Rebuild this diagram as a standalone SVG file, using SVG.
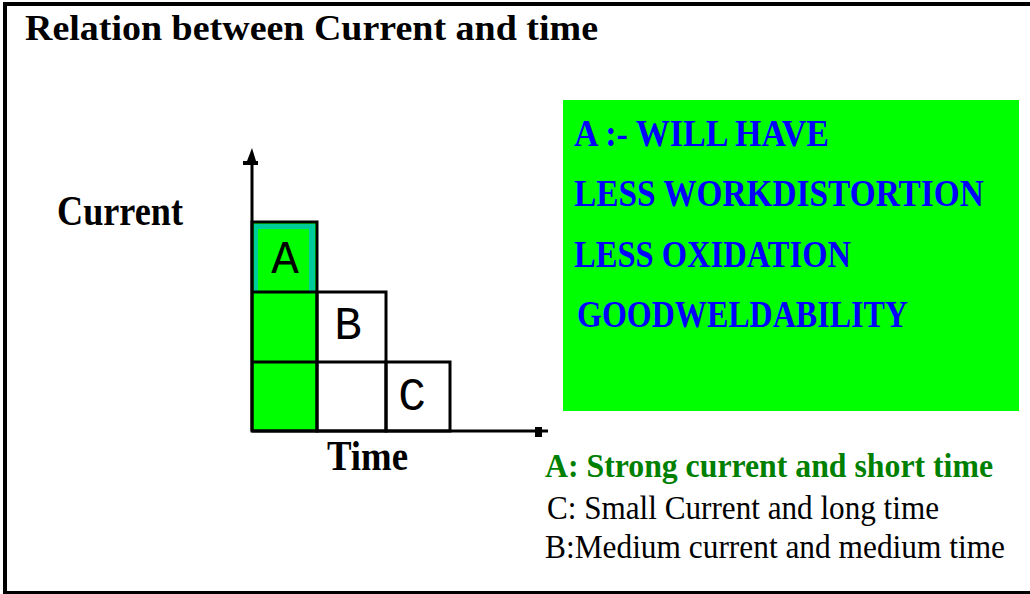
<svg xmlns="http://www.w3.org/2000/svg" width="1030" height="594" viewBox="0 0 1030 594">
<style>
.ser{font-family:"Liberation Serif","Times New Roman",serif}
.b{font-weight:bold}
.blue{fill:#0000ff;font-family:"Liberation Serif",serif;font-weight:bold;font-size:38px}
.cell{fill:none;stroke:#000;stroke-width:3}
.lbl{font-family:"Liberation Mono","Courier New",monospace;font-size:46px;fill:#000;text-anchor:middle}
</style>
<rect x="5" y="4" width="1030" height="589" fill="#fff" stroke="#000" stroke-width="4"/>
<text class="ser b" x="25" y="40" font-size="36" textLength="573" lengthAdjust="spacingAndGlyphs">Relation between Current and time</text>
<g id="legend-box">
<rect x="563" y="100" width="456" height="311" fill="#00ff00"/>
<text class="blue" x="574" y="146" textLength="255" lengthAdjust="spacingAndGlyphs">A :- WILL HAVE</text>
<text class="blue" transform="translate(574,206) scale(0.87,1)" x="0" y="0" textLength="471" lengthAdjust="spacingAndGlyphs">LESS WORKDISTORTION</text>
<text class="blue" x="574" y="267" textLength="277" lengthAdjust="spacingAndGlyphs">LESS OXIDATION</text>
<text class="blue" x="577" y="327" textLength="331" lengthAdjust="spacingAndGlyphs">GOODWELDABILITY</text>
</g>
<g id="chart">
<rect x="252" y="222" width="65" height="209" fill="#00ff00"/>
<rect x="254" y="224" width="61" height="67" fill="#00cc99"/>
<rect x="258" y="229" width="51" height="62" fill="#00ff00"/>
<rect x="317" y="292" width="69" height="139" fill="#fff"/>
<rect x="386" y="362" width="64" height="69" fill="#fff"/>
<rect class="cell" x="252" y="222" width="65" height="209" stroke-width="4"/>
<rect class="cell" x="317" y="292" width="69" height="139"/>
<rect class="cell" x="386" y="362" width="64" height="69"/>
<line x1="252" y1="292" x2="317" y2="292" stroke="#000" stroke-width="3"/>
<line x1="252" y1="362" x2="386" y2="362" stroke="#000" stroke-width="3"/>
</g>
<g id="connectors">
<line x1="252" y1="431" x2="252" y2="158" stroke="#000" stroke-width="3"/>
<polygon points="252,148 247,161 243,161 243,165 258,165 258,161 256,161" fill="#000"/>
<line x1="252" y1="431" x2="548" y2="431" stroke="#000" stroke-width="3"/>
<rect x="535" y="427" width="7" height="10" fill="#000"/>
</g>
<g id="node-a"><text class="lbl" x="285" y="273">A</text></g>
<g id="node-b"><text class="lbl" x="348" y="339">B</text></g>
<g id="node-c"><text class="lbl" x="412" y="410">C</text></g>
<text class="ser b" x="57" y="225" font-size="42" textLength="126" lengthAdjust="spacingAndGlyphs">Current</text>
<text class="ser b" x="327" y="470" font-size="42" textLength="81" lengthAdjust="spacingAndGlyphs">Time</text>
<g id="notes">
<text class="ser b" x="545" y="477" font-size="33" fill="#008000" textLength="448" lengthAdjust="spacingAndGlyphs">A: Strong current and short time</text>
<text class="ser" x="547" y="519" font-size="33" fill="#000" textLength="392" lengthAdjust="spacingAndGlyphs">C: Small Current and long time</text>
<text class="ser" x="545" y="558" font-size="33" fill="#000" textLength="460" lengthAdjust="spacingAndGlyphs">B:Medium current and medium time</text>
</g>
</svg>
